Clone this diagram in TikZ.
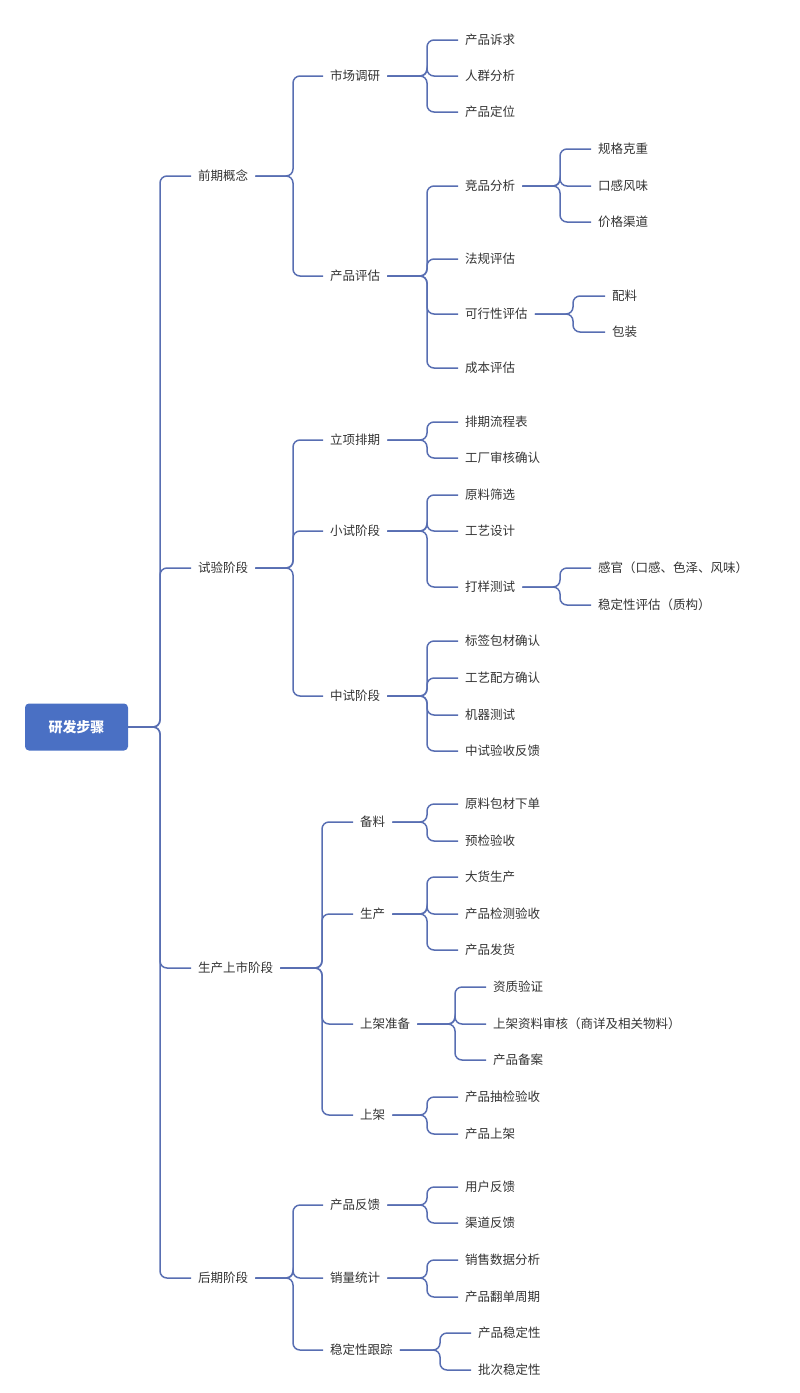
\documentclass[tikz,border=0pt]{standalone}
\usepackage{fontspec}
\newfontfamily\cjk{Noto Sans CJK SC}
\begin{document}
\begin{tikzpicture}[x=1pt,y=-1pt,
  lbl/.style={anchor=west,inner xsep=7pt,inner ysep=2pt,font=\cjk\fontsize{12.5}{14}\selectfont,text=black!80},
  root/.style={fill=rootblue,rounded corners=4pt,minimum width=103pt,minimum height=47pt,text=white,font=\cjk\bfseries\fontsize{14}{16}\selectfont},
  conn/.style={draw=lineblue,line width=1.5pt,rounded corners=7pt}]
\definecolor{rootblue}{RGB}{74,112,196}
\definecolor{lineblue}{RGB}{88,110,178}
\useasboundingbox (0,0) rectangle (800,1393);
\newcommand\nd[4]{\node[lbl] (#1) at (#2,#3) {#4};}
\newcommand\lk[3]{\draw[conn] (#1.east) -- (#1.east -| #2) |- (#3.west);}
\node[root] (r) at (76.5,727) {研发步骤};
\coordinate (b0) at (160,0);
% level 1
\nd{a}{191}{176}{前期概念}
\nd{b}{191}{568}{试验阶段}
\nd{c}{191}{968}{生产上市阶段}
\nd{d}{191}{1278}{后期阶段}
\foreach \n in {a,b,c,d}{\lk{r}{b0}{\n}}
% A
\coordinate (ba) at (293,0);
\nd{a1}{323}{76}{市场调研}
\nd{a2}{323}{276}{产品评估}
\lk{a}{ba}{a1}\lk{a}{ba}{a2}
\coordinate (bA) at (427,0);
\nd{a11}{458}{40}{产品诉求}
\nd{a12}{458}{76}{人群分析}
\nd{a13}{458}{112}{产品定位}
\lk{a1}{bA}{a11}\lk{a1}{bA}{a12}\lk{a1}{bA}{a13}
\nd{a21}{458}{186}{竞品分析}
\nd{a22}{458}{259}{法规评估}
\nd{a23}{458}{314}{可行性评估}
\nd{a24}{458}{368}{成本评估}
\lk{a2}{bA}{a21}\lk{a2}{bA}{a22}\lk{a2}{bA}{a23}\lk{a2}{bA}{a24}
\coordinate (bj) at (560,0);
\nd{j1}{591}{149}{规格克重}
\nd{j2}{591}{186}{口感风味}
\nd{j3}{591}{222}{价格渠道}
\lk{a21}{bj}{j1}\lk{a21}{bj}{j2}\lk{a21}{bj}{j3}
\coordinate (bk) at (573,0);
\nd{k1}{605}{296}{配料}
\nd{k2}{605}{332}{包装}
\lk{a23}{bk}{k1}\lk{a23}{bk}{k2}
% B
\nd{b1}{323}{440}{立项排期}
\nd{b2}{323}{531}{小试阶段}
\nd{b3}{323}{696}{中试阶段}
\lk{b}{ba}{b1}\lk{b}{ba}{b2}\lk{b}{ba}{b3}
\nd{b11}{458}{422}{排期流程表}
\nd{b12}{458}{458}{工厂审核确认}
\lk{b1}{bA}{b11}\lk{b1}{bA}{b12}
\nd{b21}{458}{495}{原料筛选}
\nd{b22}{458}{531}{工艺设计}
\nd{b23}{458}{587}{打样测试}
\lk{b2}{bA}{b21}\lk{b2}{bA}{b22}\lk{b2}{bA}{b23}
\nd{s1}{591}{568}{感官（口感、色泽、风味）}
\nd{s2}{591}{605}{稳定性评估（质构）}
\lk{b23}{bj}{s1}\lk{b23}{bj}{s2}
\nd{b31}{458}{641}{标签包材确认}
\nd{b32}{458}{678}{工艺配方确认}
\nd{b33}{458}{715}{机器测试}
\nd{b34}{458}{751}{中试验收反馈}
\lk{b3}{bA}{b31}\lk{b3}{bA}{b32}\lk{b3}{bA}{b33}\lk{b3}{bA}{b34}
% C
\coordinate (bc) at (322,0);
\nd{c1}{353}{822}{备料}
\nd{c2}{353}{914}{生产}
\nd{c3}{353}{1024}{上架准备}
\nd{c4}{353}{1115}{上架}
\lk{c}{bc}{c1}\lk{c}{bc}{c2}\lk{c}{bc}{c3}\lk{c}{bc}{c4}
\nd{c11}{458}{804}{原料包材下单}
\nd{c12}{458}{841}{预检验收}
\lk{c1}{bA}{c11}\lk{c1}{bA}{c12}
\nd{c21}{458}{877}{大货生产}
\nd{c22}{458}{914}{产品检测验收}
\nd{c23}{458}{950}{产品发货}
\lk{c2}{bA}{c21}\lk{c2}{bA}{c22}\lk{c2}{bA}{c23}
\coordinate (bs) at (455,0);
\nd{c31}{486}{987}{资质验证}
\nd{c32}{486}{1024}{上架资料审核（商详及相关物料）}
\nd{c33}{486}{1060}{产品备案}
\lk{c3}{bs}{c31}\lk{c3}{bs}{c32}\lk{c3}{bs}{c33}
\nd{c41}{458}{1097}{产品抽检验收}
\nd{c42}{458}{1134}{产品上架}
\lk{c4}{bA}{c41}\lk{c4}{bA}{c42}
% D
\nd{d1}{323}{1205}{产品反馈}
\nd{d2}{323}{1278}{销量统计}
\nd{d3}{323}{1350}{稳定性跟踪}
\lk{d}{ba}{d1}\lk{d}{ba}{d2}\lk{d}{ba}{d3}
\nd{d11}{458}{1187}{用户反馈}
\nd{d12}{458}{1223}{渠道反馈}
\lk{d1}{bA}{d11}\lk{d1}{bA}{d12}
\nd{d21}{458}{1260}{销售数据分析}
\nd{d22}{458}{1297}{产品翻单周期}
\lk{d2}{bA}{d21}\lk{d2}{bA}{d22}
\coordinate (bt) at (440,0);
\nd{d31}{471}{1333}{产品稳定性}
\nd{d32}{471}{1370}{批次稳定性}
\lk{d3}{bt}{d31}\lk{d3}{bt}{d32}
\end{tikzpicture}
\end{document}
